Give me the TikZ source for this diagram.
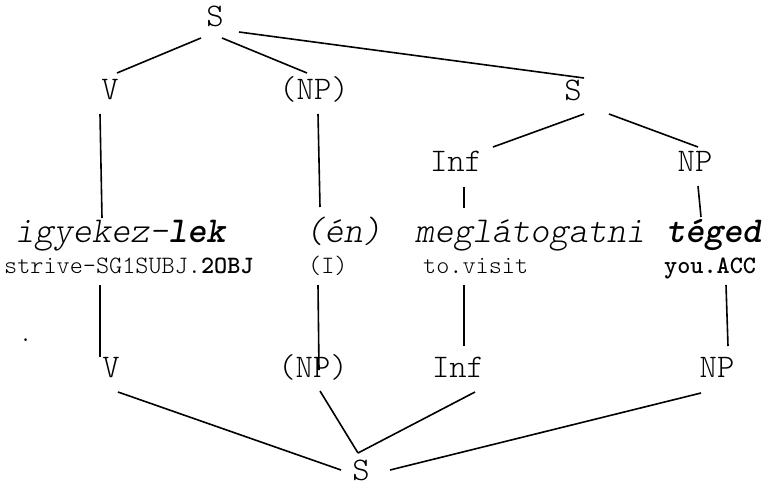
\documentclass[tikz,border=0pt]{standalone}
\usepackage{fontspec}
\usetikzlibrary{calc}
\newfontfamily\ltreg{lmmonolt10-regular.otf}
\newfontfamily\ltobl{lmmonolt10-oblique.otf}
\newfontfamily\ltbold{lmmonolt10-bold.otf}
\newfontfamily\ltboldobl{lmmonolt10-boldoblique.otf}
\newcommand\labfont{\ltreg\fontsize{33}{36}\selectfont}
\newcommand\wordfont{\ltobl\fontsize{36.5}{40}\selectfont}
\newcommand\glossfont{\ltreg\fontsize{25}{28}\selectfont}
\newcommand\bup[1]{{\ltbold #1}}
\newcommand\bsl[1]{{\ltboldobl #1}}
\tikzset{
  lab/.style={font=\labfont, inner sep=0pt, anchor=base},
  wrd/.style={font=\wordfont, inner sep=0pt, anchor=base west},
  gls/.style={font=\glossfont, inner sep=0pt, anchor=base west},
  edge/.style={line width=1.6pt, line cap=butt}
}
\begin{document}
\begin{tikzpicture}[x=1pt,y=-1pt]
\useasboundingbox (0,0) rectangle (767,487);
% upper tree
\node[lab] (St)   at (215,27)  {S};
\node[lab] (V1)   at (110,99)  {V};
\node[lab] (NP1)  at (314,99)  {(NP)};
\node[lab] (Sm)   at (573,100) {S};
\node[lab] (Inf1) at (456,171) {Inf};
\node[lab] (NP2)  at (695,171) {NP};
% words
\node[wrd] (w1) at (15,242)  {igyekez-\bsl{lek}};
\node[wrd] (w2) at (305,242) {(én)};
\node[wrd] (w3) at (415,242) {meglátogatni};
\node[wrd] (w4) at (666,242) {\bsl{téged}};
% glosses
\node[gls] (g1) at (4,273)   {strive-SG1SUBJ.\bup{2OBJ}};
\node[gls] (g2) at (308,273) {(I)};
\node[gls] (g3) at (423,273) {to.visit};
\node[gls] (g4) at (664,273) {\bup{you.ACC}};
\node[gls] (dot) at (19,341) {.};
% lower tree
\node[lab] (V2)   at (111,377) {V};
\node[lab] (NP3)  at (313,377) {(NP)};
\node[lab] (Inf2) at (458,377) {Inf};
\node[lab] (NP4)  at (717,377) {NP};
\node[lab] (Sb)   at (361,480) {S};
% upper connectors
\draw[edge] ($(St.base)+(-14,11)$) -- ($(V1.base)+(7,-26)$);
\draw[edge] ($(St.base)+(7,11)$) -- ($(NP1.base)+(-7,-26)$);
\draw[edge] ($(St.base)+(24,5)$) -- ($(Sm.base)+(11,-22)$);
\draw[edge] ($(Sm.base)+(11,14)$) -- ($(Inf1.base)+(37,-24)$);
\draw[edge] ($(Sm.base)+(36,14)$) -- ($(NP2.base)+(3,-24)$);
\draw[edge] ($(V1.base)+(-10,15)$) -- ($(w1.base west)+(87,-24)$);
\draw[edge] ($(NP1.base)+(4,15)$) -- ($(w2.base west)+(15,-35)$);
\draw[edge] ($(Inf1.base)+(8,16)$) -- ($(w3.base west)+(49,-34)$);
\draw[edge] ($(NP2.base)+(3,15)$) -- ($(w4.base west)+(35,-25)$);
% lower connectors
\draw[edge] ($(g1.base west)+(96,12)$) -- ($(V2.base)+(-11,-20)$);
\draw[edge] ($(g2.base west)+(10,12)$) -- ($(NP3.base)+(6,-7)$);
\draw[edge] ($(g3.base west)+(41,12)$) -- ($(Inf2.base)+(6,-31)$);
\draw[edge] ($(g4.base west)+(62,12)$) -- ($(NP4.base)+(11,-31)$);
\draw[edge] ($(V2.base)+(7,15)$) -- ($(Sb.base)+(-20,-10)$);
\draw[edge] ($(NP3.base)+(7,14)$) -- ($(Sb.base)+(-3,-27)$);
\draw[edge] ($(Inf2.base)+(17,15)$) -- ($(Sb.base)+(-3,-27)$);
\draw[edge] ($(NP4.base)+(-16,16)$) -- ($(Sb.base)+(29,-10)$);
\end{tikzpicture}
\end{document}
